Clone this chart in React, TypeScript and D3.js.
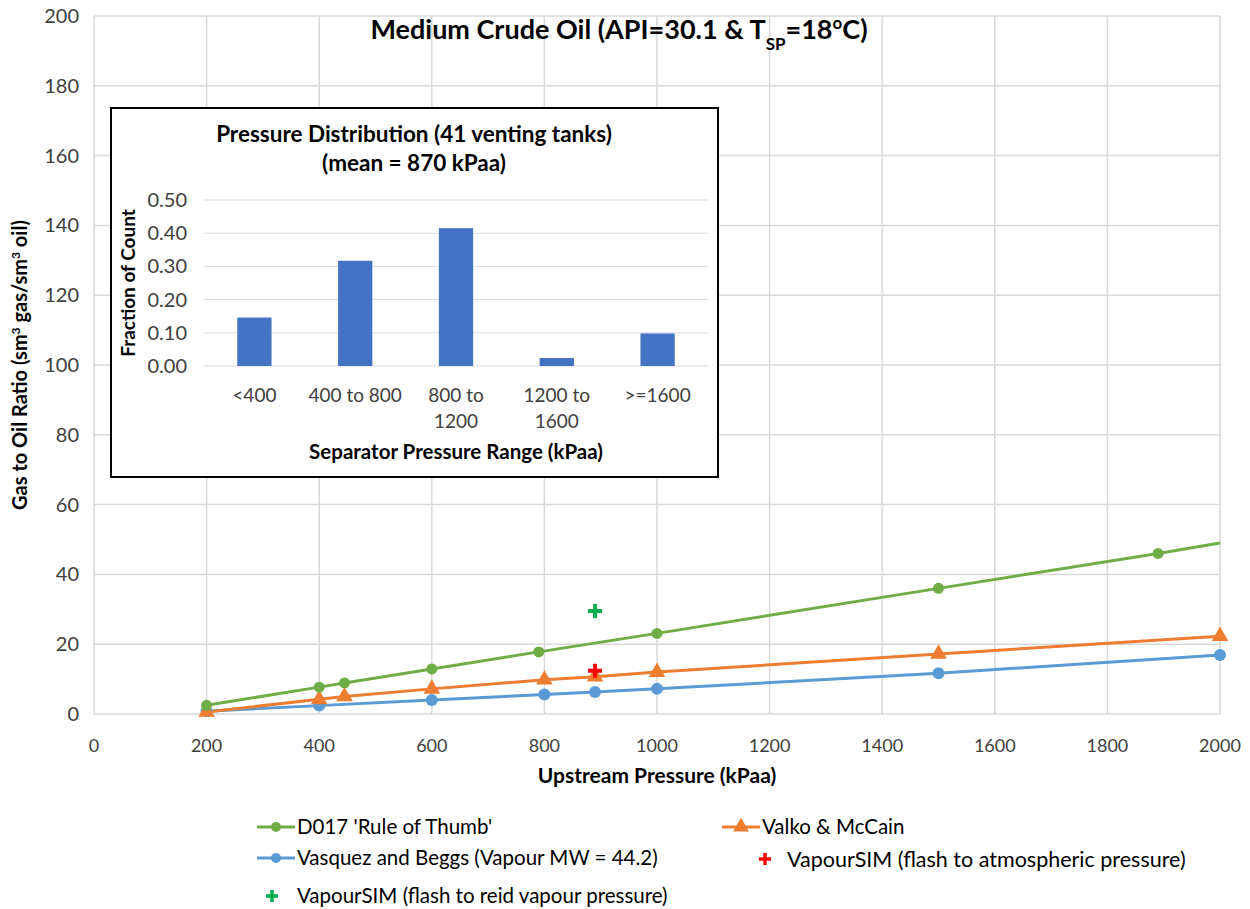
import React from "react";
import * as d3 from "d3";

const d017X = [200, 400, 445, 600, 790, 1000, 1500, 1890, 2000];
const d017Y = [2.5, 7.7, 8.9, 12.9, 17.8, 23.1, 36.0, 46.0, 49.0];
const valkoX = [200, 400, 445, 600, 800, 890, 1000, 1500, 2000];
const valkoY = [0.6, 4.2, 5.0, 7.2, 9.8, 10.7, 12.0, 17.2, 22.3];
const vasquezX = [200, 400, 600, 800, 890, 1000, 1500, 2000];
const vasquezY = [0.8, 2.4, 4.0, 5.6, 6.3, 7.2, 11.7, 16.9];
const simAtmX = [890];
const simAtmY = [12.4];
const simRvpX = [890];
const simRvpY = [29.5];

const xTicks = [0, 200, 400, 600, 800, 1000, 1200, 1400, 1600, 1800, 2000];
const yTicks = [0, 20, 40, 60, 80, 100, 120, 140, 160, 180, 200];

const binLabels = [["<400"], ["400 to 800"], ["800 to", "1200"], ["1200 to", "1600"], [">=1600"]];
const binKeys = ["<400", "400 to 800", "800 to 1200", "1200 to 1600", ">=1600"];
const binValues = [0.146, 0.317, 0.415, 0.024, 0.098];
const insetTicks = [0, 0.1, 0.2, 0.3, 0.4, 0.5];

const GREEN = "#70AD47";
const ORANGE = "#ED7D31";
const BLUE = "#5B9BD5";
const GRID = "#D9D9D9";
const FONT = "Lato, 'Open Sans', sans-serif";

export default function App() {
  const W = 1250, H = 909;
  const x = d3.scaleLinear().domain([0, 2000]).range([94, 1220]);
  const y = d3.scaleLinear().domain([0, 200]).range([714, 16]);
  const line = d3.line<[number, number]>().x(d => x(d[0])).y(d => y(d[1]));
  const zip = (a: number[], b: number[]) => a.map((v, i) => [v, b[i]] as [number, number]);
  const d017 = zip(d017X, d017Y);
  const valko = zip(valkoX, valkoY);
  const vasq = zip(vasquezX, vasquezY);
  const tri = d3.symbol().type(d3.symbolTriangle).size(120)();
  const triLeg = d3.symbol().type(d3.symbolTriangle).size(110)();

  // inset
  const ix = d3.scaleBand().domain(binKeys).range([204, 708]).paddingInner(0.66).paddingOuter(0.33);
  const iy = d3.scaleLinear().domain([0, 0.5]).range([366, 200]);

  const cross = (cx: number, cy: number, color: string, s = 7, w = 4) => (
    <g>
      <line x1={cx - s} x2={cx + s} y1={cy} y2={cy} stroke={color} strokeWidth={w} />
      <line x1={cx} x2={cx} y1={cy - s} y2={cy + s} stroke={color} strokeWidth={w} />
    </g>
  );

  return (
    <svg width={W} height={H} style={{ position: "absolute", left: 0, top: 0, background: "#fff" }} fontFamily={FONT}>
      <rect width={W} height={H} fill="#fff" />
      {/* grid */}
      {yTicks.map(t => (
        <line key={"gy" + t} x1={x(0)} x2={x(2000)} y1={y(t)} y2={y(t)} stroke={GRID} strokeWidth={1.5} />
      ))}
      {xTicks.map(t => (
        <line key={"gx" + t} x1={x(t)} x2={x(t)} y1={y(0)} y2={y(200)} stroke={GRID} strokeWidth={1.5} />
      ))}
      {/* tick labels */}
      {yTicks.map(t => (
        <text key={"ty" + t} x={79} y={y(t)} dy="0.35em" textAnchor="end" fontSize={20} fill="#404040">{t}</text>
      ))}
      {xTicks.map(t => (
        <text key={"tx" + t} x={x(t)} y={746} dy="0.35em" textAnchor="middle" fontSize={18} fill="#404040">{t}</text>
      ))}
      <text x={657} y={776} dy="0.35em" textAnchor="middle" fontSize={21} fontWeight="bold" fill="#000">Upstream Pressure (kPaa)</text>
      <text transform="translate(20,365) rotate(-90)" textAnchor="middle" dy="0.35em" fontSize={20} fontWeight="bold" fill="#000">
        Gas to Oil Ratio (sm<tspan baselineShift="super" fontSize={12}>3</tspan> gas/sm<tspan baselineShift="super" fontSize={12}>3</tspan> oil)
      </text>
      {/* title */}
      <text x={619} y={30} dy="0.35em" textAnchor="middle" fontSize={27} fontWeight="bold" fill="#000">
        Medium Crude Oil (API=30.1 &amp; T<tspan baselineShift="sub" fontSize={17}>SP</tspan>=18<tspan baselineShift="super" fontSize={17}>o</tspan>C)
      </text>

      {/* series */}
      <path d={line(vasq) || ""} fill="none" stroke={BLUE} strokeWidth={3} />
      <path d={line(valko) || ""} fill="none" stroke={ORANGE} strokeWidth={3} />
      <path d={line(d017) || ""} fill="none" stroke={GREEN} strokeWidth={3} />
      {vasq.map((d, i) => <circle key={"b" + i} cx={x(d[0])} cy={y(d[1])} r={6} fill={BLUE} />)}
      {valko.map((d, i) => <path key={"o" + i} d={tri || ""} transform={`translate(${x(d[0])},${y(d[1])})`} fill={ORANGE} />)}
      {d017.filter(d => d[0] < 2000).map((d, i) => <circle key={"g" + i} cx={x(d[0])} cy={y(d[1])} r={5.5} fill={GREEN} />)}
      {simAtmX.map((v, i) => <g key={"ra" + i}>{cross(x(v), y(simAtmY[i]), "#FF0000")}</g>)}
      {simRvpX.map((v, i) => <g key={"rv" + i}>{cross(x(v), y(simRvpY[i]), "#00B050")}</g>)}

      {/* inset */}
      <rect x={111} y={108} width={607} height={369} fill="#fff" stroke="#000" strokeWidth={2} />
      <text x={414} y={134} dy="0.35em" textAnchor="middle" fontSize={22.5} fontWeight="bold" fill="#000">Pressure Distribution (41 venting tanks)</text>
      <text x={414} y={163} dy="0.35em" textAnchor="middle" fontSize={22.5} fontWeight="bold" fill="#000">(mean = 870 kPaa)</text>
      {insetTicks.map(t => (
        <g key={"it" + t}>
          <line x1={204} x2={708} y1={iy(t)} y2={iy(t)} stroke={GRID} strokeWidth={1} />
          <text x={187} y={iy(t)} dy="0.35em" textAnchor="end" fontSize={20} fill="#404040">{t.toFixed(2)}</text>
        </g>
      ))}
      {binKeys.map((k, i) => (
        <rect key={"bar" + k} x={ix(k)} y={iy(binValues[i])} width={ix.bandwidth()} height={iy(0) - iy(binValues[i])} fill="#4472C4" />
      ))}
      {binKeys.map((k, i) => (
        <text key={"bl" + k} x={(ix(k) || 0) + ix.bandwidth() / 2} y={395} textAnchor="middle" fontSize={19} fill="#404040">
          {binLabels[i].map((l, j) => <tspan key={j} x={(ix(k) || 0) + ix.bandwidth() / 2} dy={j === 0 ? "0.35em" : 26}>{l}</tspan>)}
        </text>
      ))}
      <text x={456} y={452} dy="0.35em" textAnchor="middle" fontSize={20.5} fontWeight="bold" fill="#000">Separator Pressure Range (kPaa)</text>
      <text transform="translate(128,283) rotate(-90)" textAnchor="middle" dy="0.35em" fontSize={19} fontWeight="bold" fill="#000">Fraction of Count</text>

      {/* legend */}
      <g fontSize={20.5} fill="#000">
        <line x1={257} x2={295} y1={827} y2={827} stroke={GREEN} strokeWidth={3} />
        <circle cx={276} cy={827} r={5} fill={GREEN} />
        <text x={297} y={827} dy="0.35em">D017 'Rule of Thumb'</text>

        <line x1={722} x2={760} y1={827} y2={827} stroke={ORANGE} strokeWidth={3} />
        <path d={triLeg || ""} transform={`translate(741,827)`} fill={ORANGE} />
        <text x={762} y={827} dy="0.35em">Valko &amp; McCain</text>

        <line x1={257} x2={295} y1={858} y2={858} stroke={BLUE} strokeWidth={3} />
        <circle cx={276} cy={858} r={5} fill={BLUE} />
        <text x={297} y={858} dy="0.35em">Vasquez and Beggs (Vapour MW = 44.2)</text>

        {cross(765, 859, "#FF0000", 6, 3.5)}
        <text x={787} y={859} dy="0.35em" fontSize={21.5}>VapourSIM (flash to atmospheric pressure)</text>

        {cross(272, 896, "#00B050", 6, 3.5)}
        <text x={297} y={896} dy="0.35em">VapourSIM (flash to reid vapour pressure)</text>
      </g>
    </svg>
  );
}
